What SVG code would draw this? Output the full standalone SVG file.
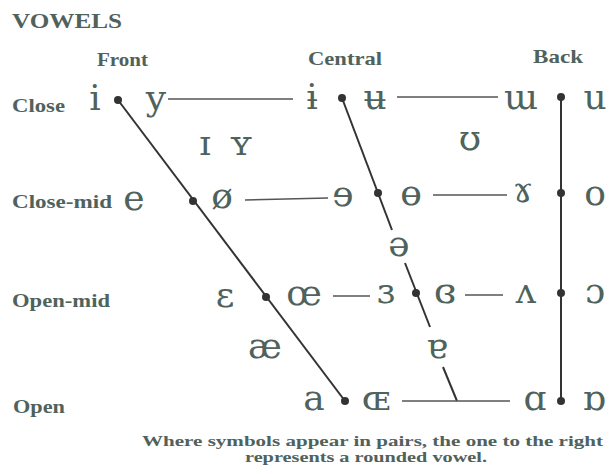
<svg xmlns="http://www.w3.org/2000/svg" width="609" height="474" viewBox="0 0 609 474">
<style>
.lbl{font-family:"Liberation Serif","DejaVu Serif",serif;font-size:19px;font-weight:bold;fill:#4f625c}
.ttl{font-family:"Liberation Serif","DejaVu Serif",serif;font-size:22px;font-weight:bold;fill:#4f625c}
.ipa{font-family:"DejaVu Serif","Liberation Serif",serif;font-size:36px;fill:#4f625c;text-anchor:middle}
.note{font-family:"Liberation Serif","DejaVu Serif",serif;font-size:15px;font-weight:bold;fill:#4f625c}
.dot{fill:#333}
.ln{stroke:#333;stroke-width:2;fill:none}
.hl{stroke:#555;stroke-width:1.5;fill:none}
</style>
<rect width="609" height="474" fill="#fff"/>
<g id="labels">
<text class="ttl" x="12" y="28" textLength="110" lengthAdjust="spacingAndGlyphs">VOWELS</text>
<text class="lbl" x="97" y="66" textLength="51" lengthAdjust="spacingAndGlyphs">Front</text>
<text class="lbl" x="308" y="65" textLength="74" lengthAdjust="spacingAndGlyphs">Central</text>
<text class="lbl" x="533" y="63" textLength="50" lengthAdjust="spacingAndGlyphs">Back</text>
<text class="lbl" x="12" y="112" textLength="53" lengthAdjust="spacingAndGlyphs">Close</text>
<text class="lbl" x="12" y="208" textLength="100" lengthAdjust="spacingAndGlyphs">Close-mid</text>
<text class="lbl" x="12" y="307" textLength="98" lengthAdjust="spacingAndGlyphs">Open-mid</text>
<text class="lbl" x="13" y="413" textLength="52" lengthAdjust="spacingAndGlyphs">Open</text>
<text class="note" x="142" y="446" textLength="461" lengthAdjust="spacingAndGlyphs">Where symbols appear in pairs, the one to the right</text>
<text class="note" x="245" y="462" textLength="242" lengthAdjust="spacingAndGlyphs">represents a rounded vowel.</text>
</g>
<g id="connectors">
<line class="ln" x1="118" y1="100" x2="345" y2="401"/>
<line class="ln" x1="342" y1="98" x2="392" y2="230"/>
<line class="ln" x1="405" y1="263" x2="430" y2="327"/>
<line class="ln" x1="443" y1="367" x2="457" y2="401"/>
<line class="ln" x1="561" y1="97" x2="561" y2="401"/>
<line class="hl" x1="168" y1="99" x2="293" y2="99"/>
<line class="hl" x1="397" y1="97" x2="498" y2="97"/>
<line class="hl" x1="245" y1="200" x2="328" y2="198"/>
<line class="hl" x1="433" y1="195" x2="507" y2="195"/>
<line class="hl" x1="333" y1="296" x2="370" y2="296"/>
<line class="hl" x1="465" y1="295" x2="503" y2="295"/>
<line class="hl" x1="402" y1="401" x2="510" y2="401"/>
</g>
<g id="close-front"><text class="ipa" x="95" y="110">i</text><circle class="dot" cx="118" cy="100" r="4"/><text class="ipa" x="156" y="110">y</text></g>
<g id="close-central"><text class="ipa" x="312" y="109">ɨ</text><circle class="dot" cx="342" cy="98" r="4"/><text class="ipa" x="375" y="109">ʉ</text></g>
<g id="close-back"><text class="ipa" x="521" y="109">ɯ</text><circle class="dot" cx="561" cy="97" r="4"/><text class="ipa" x="595" y="109">u</text></g>
<g id="near-close-front"><text class="ipa" x="205" y="155">ɪ</text><text class="ipa" x="241" y="155">ʏ</text></g>
<g id="near-close-back"><text class="ipa" x="470" y="150">ʊ</text></g>
<g id="close-mid-front"><text class="ipa" x="134" y="210">e</text><circle class="dot" cx="193" cy="201" r="4"/><text class="ipa" x="222" y="208">ø</text></g>
<g id="close-mid-central"><text class="ipa" x="343" y="206">ɘ</text><circle class="dot" cx="378" cy="193" r="4"/><text class="ipa" x="411" y="205">ɵ</text></g>
<g id="close-mid-back"><text class="ipa" x="523" y="202">ɤ</text><circle class="dot" cx="561" cy="193" r="4"/><text class="ipa" x="595" y="205">o</text></g>
<g id="mid-central"><text class="ipa" x="399" y="256">ə</text></g>
<g id="open-mid-front"><text class="ipa" x="225" y="307">ɛ</text><circle class="dot" cx="266" cy="297" r="4"/><text class="ipa" x="304" y="305">œ</text></g>
<g id="open-mid-central"><text class="ipa" x="386" y="303">ɜ</text><circle class="dot" cx="416" cy="293" r="4"/><text class="ipa" x="445" y="303">ɞ</text></g>
<g id="open-mid-back"><text class="ipa" x="526" y="303">ʌ</text><circle class="dot" cx="561" cy="293" r="4"/><text class="ipa" x="595" y="303">ɔ</text></g>
<g id="near-open-front"><text class="ipa" x="265" y="358">æ</text></g>
<g id="near-open-central"><text class="ipa" x="437" y="358">ɐ</text></g>
<g id="open-front"><text class="ipa" x="314" y="410">a</text><circle class="dot" cx="345" cy="401" r="4"/><text class="ipa" x="376" y="410">ɶ</text></g>
<g id="open-back"><text class="ipa" x="535" y="410">ɑ</text><circle class="dot" cx="561" cy="401" r="4"/><text class="ipa" x="594" y="410">ɒ</text></g>
</svg>
